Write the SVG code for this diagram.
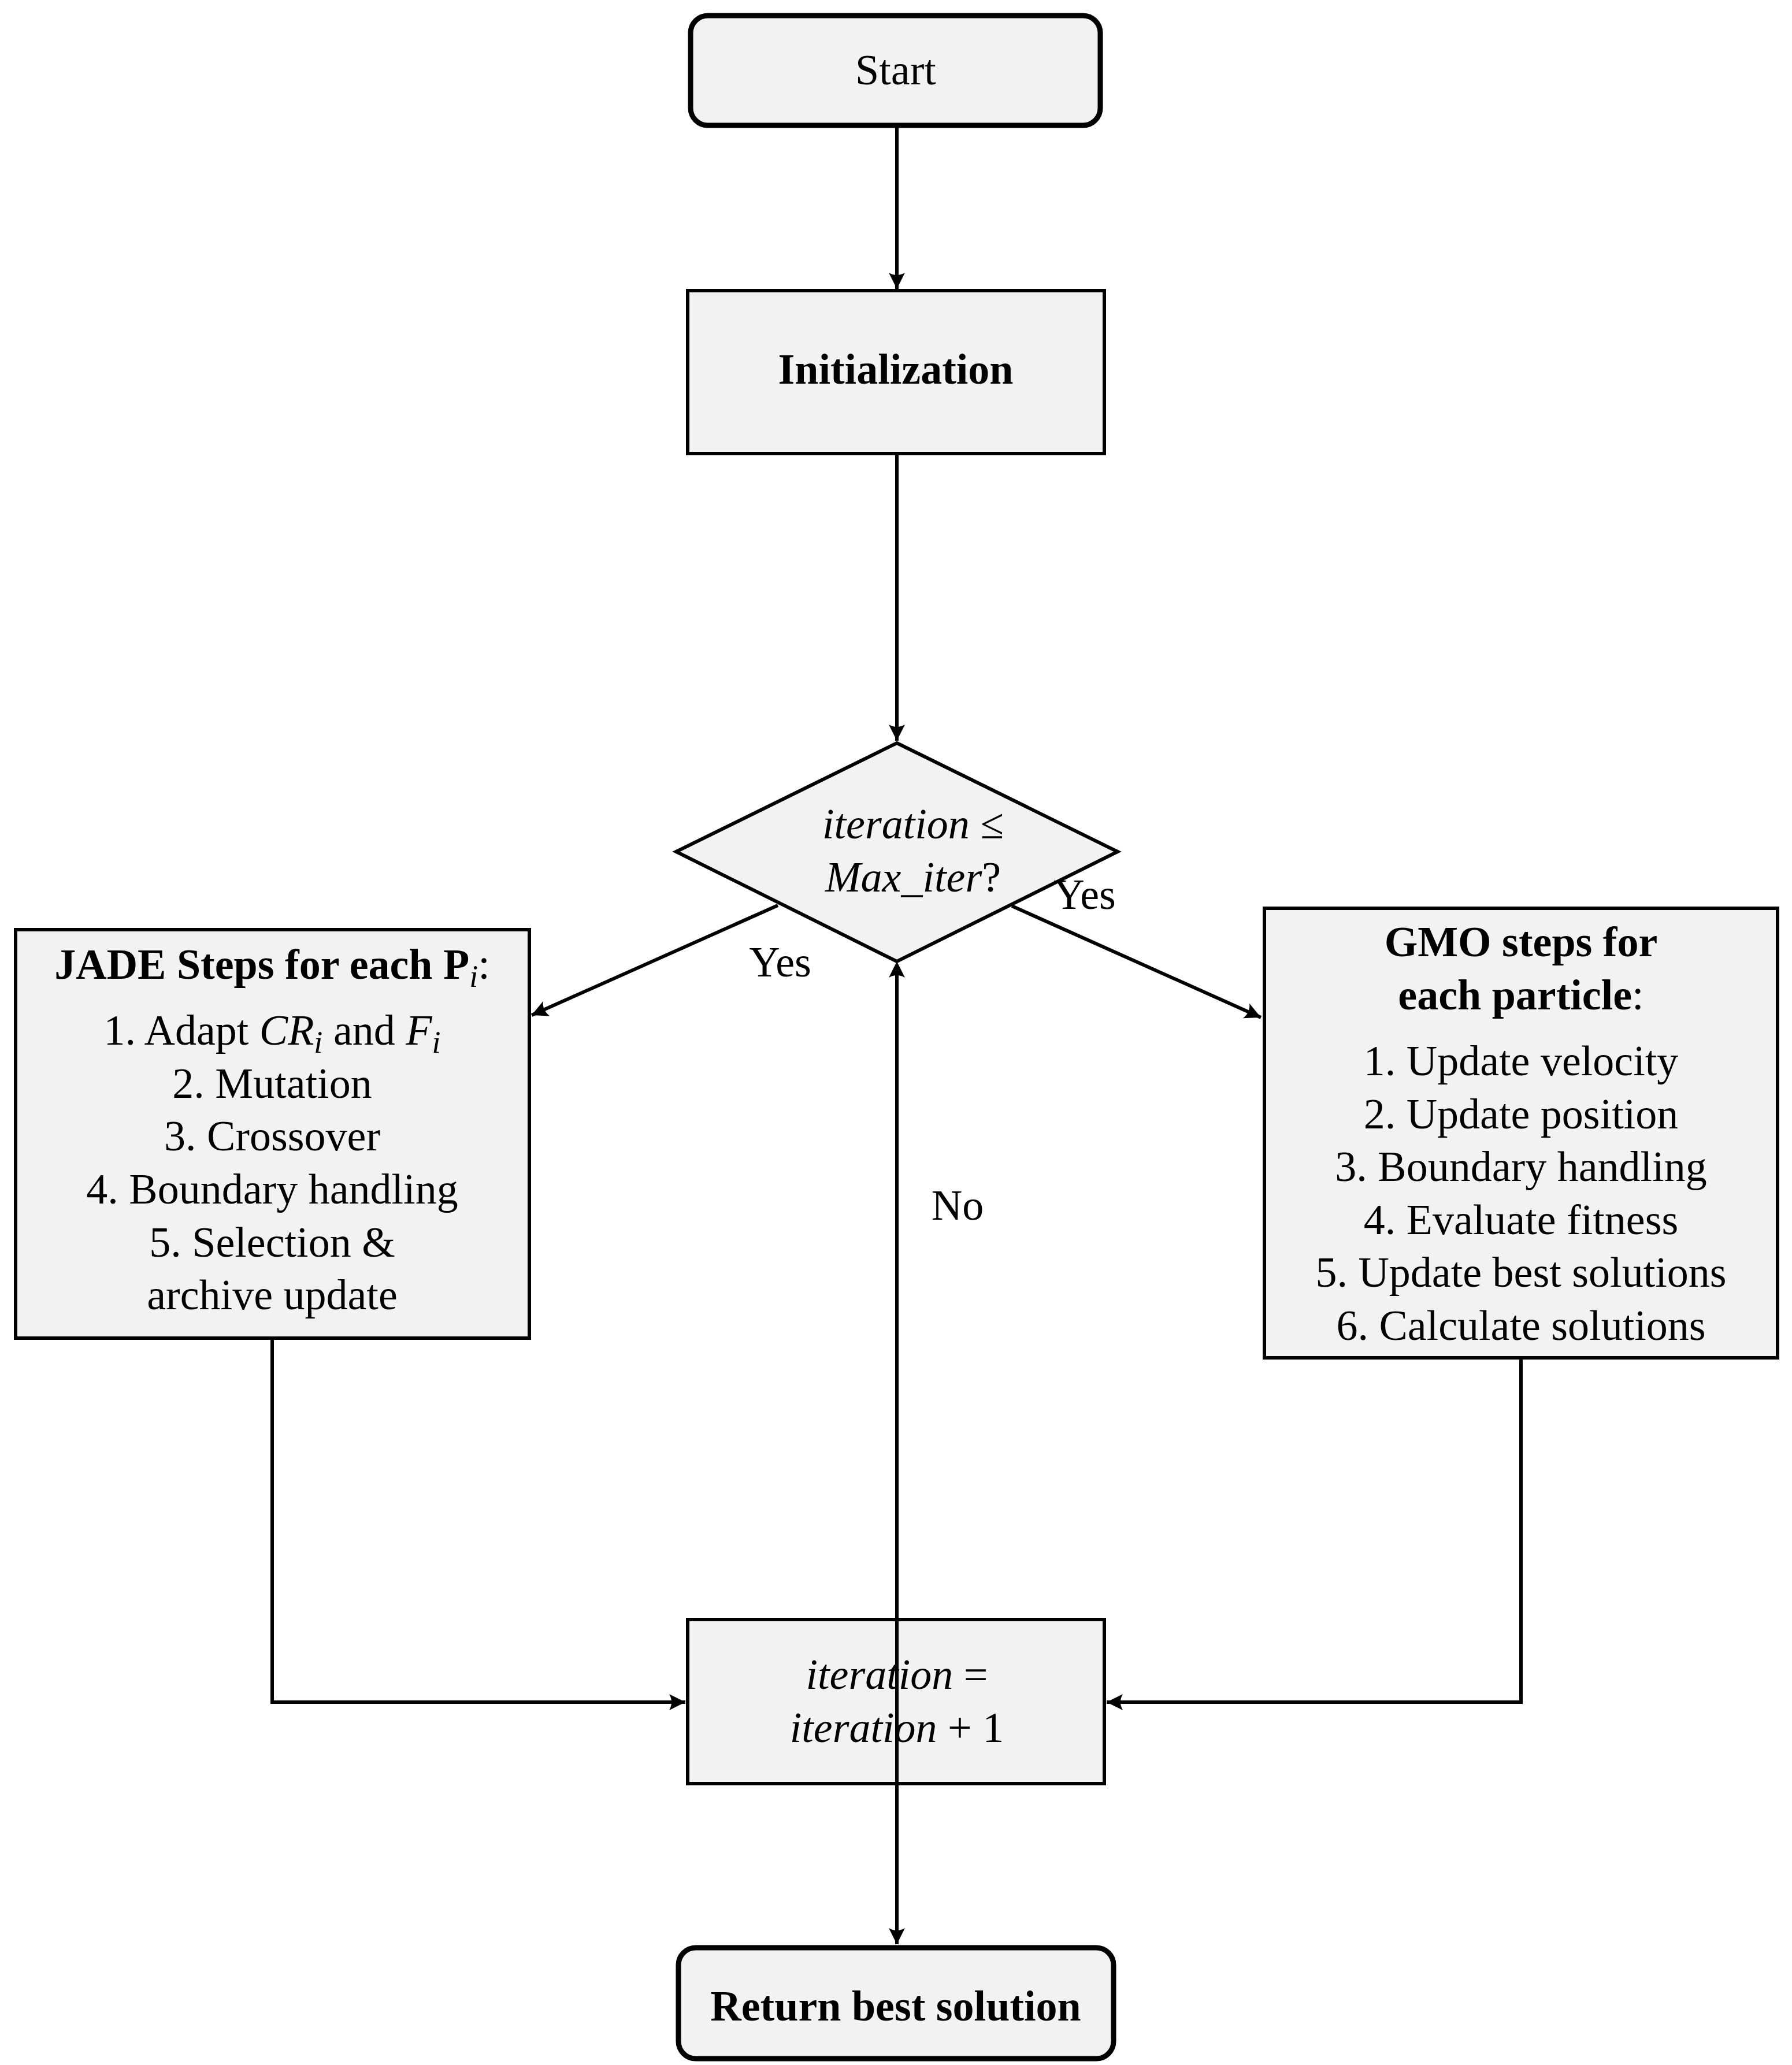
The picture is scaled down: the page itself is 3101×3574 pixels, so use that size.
<svg xmlns="http://www.w3.org/2000/svg" width="3101" height="3574" viewBox="0 0 3101 3574">
<style>
text{font-family:"Liberation Serif","DejaVu Serif",serif;font-size:74px;fill:#000;text-anchor:middle}
.b{font-weight:bold}
.i{font-style:italic}
.n{fill:#f2f2f2;stroke:#000;stroke-width:6}
.t{fill:#f2f2f2;stroke:#000;stroke-width:9}
.c{fill:none;stroke:#000;stroke-width:6}
</style>
<defs><marker id="a" viewBox="0 0 10 10" refX="9" refY="5" markerWidth="6" markerHeight="6" markerUnits="userSpaceOnUse" orient="auto" overflow="visible"><path d="M-10,-8 Q0,-1 9,5 Q0,11 -10,18 Q-4,5 -10,-8Z" transform="scale(1)" fill="#000"/></marker>
<marker id="m" markerWidth="40" markerHeight="40" refX="0" refY="0" markerUnits="userSpaceOnUse" orient="auto" overflow="visible"><path d="M0,0 L-28,-14 Q-20,0 -28,14 Z" fill="#000"/></marker></defs>
<g id="connectors">
<line class="c" x1="1552" y1="217" x2="1552" y2="500" marker-end="url(#m)"/>
<line class="c" x1="1552" y1="785" x2="1552" y2="1282" marker-end="url(#m)"/>
<line class="c" x1="1346" y1="1567" x2="920" y2="1757" marker-end="url(#m)"/>
<line class="c" x1="1751" y1="1568" x2="2182" y2="1761" marker-end="url(#m)"/>
<polyline class="c" points="471,2316 471,2946 1186,2946" marker-end="url(#m)"/>
<polyline class="c" points="2632,2350 2632,2946 1915,2946" marker-end="url(#m)"/>
</g>
<g id="start"><rect class="t" x="1195" y="27" width="709" height="190" rx="30"/><text x="1550" y="146">Start</text></g>
<g id="init"><rect class="n" x="1190" y="503" width="721" height="282"/><text class="b" x="1550" y="664">Initialization</text></g>
<g id="decision"><polygon class="n" points="1552,1286 1934,1474 1552,1664 1170,1474"/>
<text x="1580" y="1451"><tspan class="i">iteration</tspan> ≤</text><text x="1580" y="1543"><tspan class="i">Max_iter</tspan>?</text></g>
<g id="jade"><rect class="n" x="27" y="1609" width="889" height="707"/>
<text class="b" x="471" y="1694">JADE Steps for each  P<tspan class="i" font-weight="normal" font-size="54" dy="14">i</tspan><tspan dy="-14" font-weight="normal">:</tspan></text>
<text x="471" y="1808">1.  Adapt <tspan class="i">CR</tspan><tspan class="i" font-size="54" dy="14">i</tspan><tspan dy="-14"> and </tspan><tspan class="i">F</tspan><tspan class="i" font-size="54" dy="14">i</tspan></text>
<text x="471" y="1900">2.  Mutation</text>
<text x="471" y="1991">3.  Crossover</text>
<text x="471" y="2083">4.  Boundary handling</text>
<text x="471" y="2175">5.  Selection &amp;</text>
<text x="471" y="2266">archive update</text></g>
<g id="gmo"><rect class="n" x="2188" y="1572" width="888" height="778"/>
<text class="b" x="2632" y="1655">GMO steps for</text>
<text x="2632" y="1747"><tspan class="b">each particle</tspan>:</text>
<text x="2632" y="1861">1.  Update velocity</text>
<text x="2632" y="1953">2.  Update position</text>
<text x="2632" y="2044">3.  Boundary handling</text>
<text x="2632" y="2136">4.  Evaluate fitness</text>
<text x="2632" y="2227">5.  Update best solutions</text>
<text x="2632" y="2319">6.  Calculate solutions</text></g>
<g id="iter"><rect class="n" x="1190" y="2803" width="721" height="284"/>
<text x="1552" y="2923"><tspan class="i">iteration</tspan>  =</text>
<text x="1552" y="3015"><tspan class="i">iteration</tspan> + 1</text></g>
<g id="ret"><rect class="t" x="1174" y="3371" width="753" height="192" rx="30"/><text class="b" x="1550" y="3497">Return best solution</text></g>
<g id="loop"><line class="c" x1="1552" y1="1670" x2="1552" y2="3365" marker-start="url(#ms)" marker-end="url(#m)"/>
<path d="M1552,1664 L1538,1692 Q1552,1684 1566,1692 Z" fill="#000"/></g>
<g id="labels"><text x="1350" y="1690">Yes</text><text x="1877" y="1573">Yes</text><text x="1657" y="2111">No</text></g>
</svg>
